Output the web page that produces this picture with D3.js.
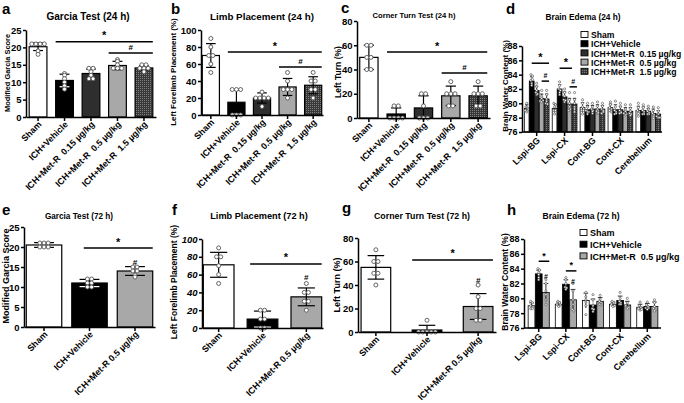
<!DOCTYPE html>
<html><head><meta charset="utf-8">
<script src="https://cdn.jsdelivr.net/npm/d3@7"></script>
<style>
body{margin:0;background:#fff;}
text{font-family:"Liberation Sans",Arial,sans-serif;font-weight:bold;fill:#000;white-space:pre;}
</style></head><body>
<svg id="chart" width="684" height="403"></svg>
<script>
// ---------------- DATA ----------------
const groups24 = ["Sham","ICH+Vehicle","ICH+Met-R  0.15 µg/kg","ICH+Met-R  0.5 µg/kg","ICH+Met-R  1.5 µg/kg"];
const groups72 = ["Sham","ICH+Vehicle","ICH+Met-R 0.5 µg/kg"];
const regions = ["Lspi-BG","Lspi-CX","Cont-BG","Cont-CX","Cerebellum"];
const legend24 = ["Sham","ICH+Vehicle","ICH+Met-R  0.15 µg/kg","ICH+Met-R  0.5 µg/kg","ICH+Met-R  1.5 µg/kg"];
const legend72 = ["Sham","ICH+Vehicle","ICH+Met-R  0.5 µg/kg"];

const ticksGarcia = [0,5,10,15,20,25];
const ticksLimb = [0,20,40,60,80,100];
const ticksTurn = [0,20,40,60,80];
const ticksEdema = [76,78,80,82,84,86,88];

// a: Garcia 24 h
const garcia24Mean = [20.2,10.5,12.5,14.8,14.1];
const garcia24SD = [1.1,1.8,1.3,1.2,0.6];
const garcia24Pts = [[21,21,21,21,19,18],[12.5,12,11,10,9,8],[14,14,13,12,11,11],[16.5,16,15,14,14,14],[15,15,14,14,14,13]];
const garcia24Sig = [{from:1,to:4,v:21.6,s:"*"},{from:3,to:4,v:18.4,s:"#"}];
// b: Limb 24 h
const limb24Mean = [70,15,20,33,35];
const limb24SD = [14,14,6,10,10];
const limb24Pts = [[90,80,70,70,60,50],[30,30,30,0,0,0],[27,20,20,20,20,10],[50,40,30,30,30,20],[50,40,40,30,30,20]];
const limb24Sig = [{from:1,to:4,v:74,s:"*"},{from:3,to:4,v:56.5,s:"#"}];
// c: Corner 24 h
const turn24Mean = [50,3.3,8.3,18.3,18.3];
const turn24SD = [10,5,10,8,8];
const turn24Pts = [[60,60,50,50,40,40],[10,10,0,0,0,0],[20,20,10,0,0,0],[30,20,20,20,10,10],[30,20,20,20,10,10]];
const turn24Sig = [{from:1,to:4,v:54.4,s:"*"},{from:3,to:4,v:37.1,s:"#"}];
// e: Garcia 72 h
const garcia72Mean = [20.5,11,14];
const garcia72SD = [0.6,0.9,1.1];
const garcia72Pts = [[21,21,21,20,20,20],[12,12,11,11,10,10],[15,15,14,14,13,12.5]];
const garcia72Sig = [{from:1,to:2,v:19.75,s:"*"},{at:2,v:16.3,s:"#"}];
// f: Limb 72 h
const limb72Mean = [71,10,35];
const limb72SD = [14,9,10];
const limb72Pts = [[90,80,80,70,60,50],[20,20,10,10,0,0],[50,40,40,30,30,20]];
const limb72Sig = [{from:1,to:2,v:72,s:"*"},{at:2,v:57,s:"#"}];
// g: Corner 72 h
const turn72Mean = [55,1.7,21.7];
const turn72SD = [10,4,11];
const turn72Pts = [[70,60,60,50,50,40],[10,0,0,0,0,0],[40,30,20,20,10,10]];
const turn72Sig = [{from:1,to:2,v:61.3,s:"*"},{at:2,v:44.3,s:"#"}];

// d: Brain edema 24 h (per series, by region)
const edema24Mean = {
  sham:  [79.3,79.3,79.4,79.4,79.0],
  veh:   [83.1,82.0,79.1,79.1,79.0],
  d015:  [81.8,80.9,79.2,79.1,78.9],
  d05:   [80.7,79.9,79.2,78.9,78.6],
  d15:   [80.6,79.9,79.2,78.9,78.5]
};
const edema24SD = {
  sham:  [0.5,0.6,0.7,0.5,0.6],
  veh:   [0.6,0.6,0.6,0.7,0.5],
  d015:  [0.6,0.7,0.5,0.5,0.4],
  d05:   [0.6,0.8,0.6,0.5,0.6],
  d15:   [0.7,0.8,0.5,0.5,0.5]
};
const edema24Pts = {
  sham: [[80,79.5,79.3,79,78.8,79.2],[80,79.8,79.5,79,78.5,79],[80.5,80,79.5,79,78.5,79],[80.2,79.8,79.4,79,78.8,79.2],[80,79.4,79,78.8,78.6,78.2]],
  veh:  [[84,83.8,83.2,82.8,82.5,83.3],[83,82.5,82,81.8,81.2,81.5],[80,79.5,79,78.8,78.5,78.8],[80.3,79.5,79,78.8,78.5,78.6],[79.8,79.4,79,78.8,78.5,78.5]],
  d015: [[82.8,82.3,81.8,81.5,81.2,81.3],[82,81.5,81,80.5,80.2,80.4],[80,79.5,79.2,79,78.6,78.9],[80,79.5,79,78.8,78.6,78.7],[79.6,79.2,78.9,78.7,78.5,78.5]],
  d05:  [[81.8,81,80.7,80.3,80.2,80.4],[81.5,80.5,80,79.5,79,79.2],[80.2,79.6,79.2,78.9,78.6,78.7],[79.8,79.2,78.9,78.6,78.4,78.5],[79.5,79,78.6,78.4,78.2,77.9]],
  d15:  [[81.8,81.2,80.6,80.3,80,79.9],[81.5,80.5,80,79.5,79.2,78.8],[80,79.6,79.2,79,78.6,78.8],[79.8,79.3,78.9,78.6,78.3,78.5],[79.4,78.9,78.5,78.2,78,78]]
};
const edema24Sig = [{r:0,from:1,to:4,v:85.6,s:"*"},{r:0,from:3,to:4,v:83.1,s:"#"},{r:1,from:1,to:3,v:84.9,s:"*"},{r:1,from:3,to:4,v:82.3,s:"#"}];

// h: Brain edema 72 h
const edema72Mean = {
  sham: [79.0,79.2,79.7,79.2,78.8],
  veh:  [83.3,81.9,79.1,79.7,78.9],
  d05:  [80.8,79.8,79.6,79.1,78.9]
};
const edema72SD = {
  sham: [0.4,0.3,1.0,0.3,0.4],
  veh:  [0.5,0.6,0.8,0.6,0.4],
  d05:  [1.2,1.4,0.5,0.5,0.6]
};
const edema72Pts = {
  sham: [[79.6,79.4,79,78.8,78.6,78.6],[79.6,79.4,79.2,79,78.9,79.1],[80.8,80.2,79.8,79.5,79,77.8],[79.6,79.4,79.2,79,79,78.9],[79.5,79,78.8,78.6,78.4,78.5]],
  veh:  [[84,83.8,83.5,83.2,82.8,82.5],[82.8,82.5,82,81.5,81.2,81.4],[80.5,79.8,79,78.6,78.2,78.5],[80.8,80,79.6,79.4,79.2,79.2],[79.5,79.1,78.9,78.7,78.5,78.7]],
  d05:  [[82.5,82,81,80.5,79.8,79.2],[82,81,79.8,79.2,78.5,78.3],[80.4,79.9,79.6,79.4,79.2,79.1],[80,79.4,79,78.8,78.6,78.8],[79.8,79.4,78.9,78.6,78.4,78.3]]
};
const edema72Sig = [{r:0,from:1,to:2,v:85.0,s:"*"},{r:1,from:1,to:2,v:83.7,s:"*"},{r:0,at:2,v:83.0,s:"#"},{r:1,at:2,v:82.4,s:"#"}];

// ---------------- DRAWING ----------------
const svg = d3.select("#chart");
svg.append("rect").attr("width",684).attr("height",403).attr("fill","#fff");
const defs = svg.append("defs");
const pat = defs.append("pattern").attr("id","checker").attr("width",2).attr("height",2).attr("patternUnits","userSpaceOnUse");
pat.append("rect").attr("width",2).attr("height",2).attr("fill","#383838");
pat.append("rect").attr("width",1).attr("height",1).attr("fill","#808080");

const fills5 = ["#ffffff","#000000","#2e2e2e","#a8a8a8","url(#checker)"];
const fills3 = ["#ffffff","#000000","#a8a8a8"];

function spread(vals, step, tol){
  // horizontal offsets so points of (nearly) equal value sit side by side
  const off = new Array(vals.length).fill(0);
  const buckets = [];
  vals.forEach((v,i)=>{
    let b = buckets.find(b=>Math.abs(b.v-v)<tol);
    if(!b){ b={v,idx:[]}; buckets.push(b);} b.idx.push(i);
  });
  buckets.forEach(b=>{ const n=b.idx.length; b.idx.forEach((ix,j)=>{ off[ix]=(j-(n-1)/2)*step; }); });
  return off;
}

function styleAxis(ax, fs){
  ax.selectAll(".domain").attr("stroke","#000").attr("stroke-width",1.5);
  ax.selectAll(".tick line").attr("stroke","#000").attr("stroke-width",1.5);
  ax.selectAll("text").attr("font-size",fs).attr("font-family","Liberation Sans, Arial, sans-serif").attr("font-weight","bold").attr("fill","#000");
}

function label(x,y,txt,fs,opts={}){
  const t = svg.append("text").attr("x",x).attr("y",y).attr("font-size",fs).text(txt);
  if(opts.anchor) t.attr("text-anchor",opts.anchor);
  if(opts.rot) t.attr("transform",`rotate(${opts.rot},${x},${y})`);
  return t;
}

function behaviorPanel(p){
  const g = svg.append("g");
  const x = d3.scaleBand().domain(p.cats).range([p.x0,p.x1]).paddingInner(p.pi).paddingOuter(p.po);
  const y = d3.scaleLinear().domain([0,p.ticks[p.ticks.length-1]]).range([p.yB,p.yT]);
  const bw = x.bandwidth();
  p.cats.forEach((c,i)=>{
    const cx = x(c)+bw/2;
    g.append("rect").attr("x",x(c)).attr("y",y(p.mean[i])).attr("width",bw).attr("height",y(0)-y(p.mean[i]))
      .attr("fill",p.fills[i]).attr("stroke","#000").attr("stroke-width",1.2);
    const lo=y(p.mean[i]-p.sd[i]), hi=y(p.mean[i]+p.sd[i]), cw=bw*0.28;
    g.append("line").attr("x1",cx).attr("x2",cx).attr("y1",Math.min(lo,y(0))).attr("y2",hi).attr("stroke","#000").attr("stroke-width",1.2);
    g.append("line").attr("x1",cx-cw).attr("x2",cx+cw).attr("y1",hi).attr("y2",hi).attr("stroke","#000").attr("stroke-width",1.2);
    if(lo<y(0)) g.append("line").attr("x1",cx-cw).attr("x2",cx+cw).attr("y1",lo).attr("y2",lo).attr("stroke",i===1?"#fff":"#000").attr("stroke-width",1.2);
    const off = spread(p.pts[i], 4.2, 0.01);
    p.pts[i].forEach((v,j)=>{
      g.append("circle").attr("cx",cx+off[j]).attr("cy",y(v)).attr("r",2).attr("fill","#fff").attr("stroke","#555").attr("stroke-width",0.9);
    });
  });
  p.sig.forEach(s=>{
    if(s.at!==undefined){
      const cx = x(p.cats[s.at])+bw/2;
      g.append("text").attr("x",cx).attr("y",y(s.v)+3).attr("text-anchor","middle").attr("font-size",8).text(s.s);
    } else {
      const xa = x(p.cats[s.from]) + (p.sigInset||0), xb = x(p.cats[s.to])+bw;
      g.append("line").attr("x1",xa).attr("x2",xb).attr("y1",y(s.v)).attr("y2",y(s.v)).attr("stroke","#000").attr("stroke-width",1.5);
      g.append("text").attr("x",(xa+xb)/2).attr("y",y(s.v)-(s.s==="*"?2.5:3)).attr("text-anchor","middle").attr("font-size",s.s==="*"?11:8).text(s.s);
    }
  });
  const ya = g.append("g").attr("transform",`translate(${p.x0},0)`).call(d3.axisLeft(y).tickValues(p.ticks).tickSize(3).tickSizeOuter(0).tickPadding(1.5));
  styleAxis(ya, p.tfs);
  if(p.italicTicks) ya.selectAll("text").attr("font-style","italic");
  const xa = g.append("g").attr("transform",`translate(0,${p.yB})`).call(d3.axisBottom(x).tickSize(4).tickSizeOuter(0));
  styleAxis(xa, p.xfs);
  xa.selectAll(".tick text").attr("x",0).attr("y",0).attr("dy",0).attr("text-anchor","end")
    .attr("transform",`translate(${p.lx},${p.ly}) rotate(-45)`);
}

function edemaPanel(p){
  const g = svg.append("g");
  const x = d3.scaleBand().domain(regions).range([p.x0,p.x1]).paddingInner(p.pi).paddingOuter(p.po);
  const xi = d3.scaleBand().domain(p.series.map((s,i)=>i)).range([0,x.bandwidth()]).padding(p.ip);
  const y = d3.scaleLinear().domain([76,88]).range([p.yB,p.yT]);
  const bw = xi.bandwidth();
  regions.forEach((r,ri)=>{
    p.series.forEach((s,si)=>{
      const m = p.mean[s][ri], sd = p.sd[s][ri];
      const x0 = x(r)+xi(si), cx = x0+bw/2;
      g.append("rect").attr("x",x0).attr("y",y(m)).attr("width",bw).attr("height",y(76)-y(m))
        .attr("fill",p.fills[si]).attr("stroke","#000").attr("stroke-width",0.8);
      const hi=y(m+sd), lo=y(m-sd), cw=bw*0.35;
      g.append("line").attr("x1",cx).attr("x2",cx).attr("y1",lo).attr("y2",hi).attr("stroke",si===1?"#888":"#000").attr("stroke-width",0.8);
      g.append("line").attr("x1",cx-cw).attr("x2",cx+cw).attr("y1",hi).attr("y2",hi).attr("stroke","#000").attr("stroke-width",0.8);
      const off = spread(p.pts[s][ri], 1.6, 0.25);
      p.pts[s][ri].forEach((v,j)=>{
        g.append("circle").attr("cx",cx+off[j]).attr("cy",y(v)).attr("r",1.1).attr("fill","#fff").attr("stroke","#444").attr("stroke-width",0.6);
      });
    });
  });
  p.sig.forEach(s=>{
    const r = regions[s.r];
    if(s.at!==undefined){
      const cx = x(r)+xi(s.at)+bw/2;
      g.append("text").attr("x",cx).attr("y",y(s.v)+3).attr("text-anchor","middle").attr("font-size",7).text(s.s);
    } else {
      const xa = x(r)+xi(s.from)+bw/2, xb = x(r)+xi(s.to)+bw;
      g.append("line").attr("x1",xa).attr("x2",xb).attr("y1",y(s.v)).attr("y2",y(s.v)).attr("stroke","#000").attr("stroke-width",1.5);
      g.append("text").attr("x",(xa+xb)/2).attr("y",y(s.v)-(s.s==="*"?2.5:3)).attr("text-anchor","middle").attr("font-size",s.s==="*"?p.starFs:7).text(s.s);
    }
  });
  const ya = g.append("g").attr("transform",`translate(${p.axisX},0)`).call(d3.axisLeft(y).tickValues(ticksEdema).tickSize(3).tickSizeOuter(0).tickPadding(1.5));
  styleAxis(ya, 9);
  const xa = g.append("g").attr("transform",`translate(0,${p.yB})`).call(d3.axisBottom(x).tickSize(4).tickSizeOuter(0));
  xa.select(".domain").attr("d",`M${p.axisX},0H${p.x1}`);
  styleAxis(xa, 8.9);
  xa.selectAll(".tick text").attr("x",0).attr("y",0).attr("dy",0).attr("text-anchor","end")
    .attr("transform",`translate(4,9) rotate(-45)`);
  p.legend.forEach((t,i)=>{
    const ly = p.legY + i*p.legStep;
    g.append("rect").attr("x",p.legX).attr("y",ly-3.5).attr("width",7).attr("height",6).attr("fill",p.fills[i]).attr("stroke","#000").attr("stroke-width",0.9);
    g.append("text").attr("x",p.legX+10).attr("y",ly+3.2).attr("font-size",p.legFs).text(t);
  });
}

// ---- panels ----
behaviorPanel({cats:groups24, mean:garcia24Mean, sd:garcia24SD, pts:garcia24Pts, sig:garcia24Sig, fills:fills5,
  ticks:ticksGarcia, x0:26, x1:156, yT:30, yB:117, pi:0.33, po:0.12, tfs:9.5, xfs:8.9, lx:4, ly:8});
behaviorPanel({cats:groups24, mean:limb24Mean, sd:limb24SD, pts:limb24Pts, sig:limb24Sig, fills:fills5,
  ticks:ticksLimb, x0:201, x1:323, yT:30, yB:115, pi:0.33, po:0.05, tfs:9.5, xfs:8.9, lx:4, ly:8});
behaviorPanel({cats:groups24, mean:turn24Mean, sd:turn24SD, pts:turn24Pts, sig:turn24Sig, fills:fills5,
  ticks:ticksTurn, x0:357, x1:490, yT:21, yB:118, pi:0.33, po:0.1, tfs:9.5, xfs:8.9, lx:4, ly:8});
behaviorPanel({cats:groups72, mean:garcia72Mean, sd:garcia72SD, pts:garcia72Pts, sig:garcia72Sig, fills:fills3,
  ticks:ticksGarcia, x0:24, x1:155, yT:227, yB:327, pi:0.22, po:0.05, tfs:9.5, xfs:8.9, lx:4, ly:8, sigInset:12});
behaviorPanel({cats:groups72, mean:limb72Mean, sd:limb72SD, pts:limb72Pts, sig:limb72Sig, fills:fills3,
  ticks:ticksLimb, x0:202, x1:323, yT:239, yB:328, pi:0.3, po:0.03, tfs:9.5, xfs:8.9, lx:4, ly:8, italicTicks:true, sigInset:3});
behaviorPanel({cats:groups72, mean:turn72Mean, sd:turn72SD, pts:turn72Pts, sig:turn72Sig, fills:fills3,
  ticks:ticksTurn, x0:358, x1:496, yT:238, yB:332, pi:0.42, po:0.06, tfs:9.5, xfs:8.9, lx:4, ly:8});

edemaPanel({series:["sham","veh","d015","d05","d15"], mean:edema24Mean, sd:edema24SD, pts:edema24Pts, sig:edema24Sig, fills:fills5,
  legend:legend24, x0:523, x1:662, axisX:522, yT:46, yB:132, pi:0.1, po:0.04, ip:0.04, legX:581, legY:35, legStep:9.2, starFs:11, legFs:8.6});
edemaPanel({series:["sham","veh","d05"], mean:edema72Mean, sd:edema72SD, pts:edema72Pts, sig:edema72Sig, fills:fills3,
  legend:legend72, x0:525, x1:661, axisX:524, yT:239, yB:328, pi:0.19, po:0.1, ip:0.06, legX:580, legY:233, legStep:11.7, starFs:9, legFs:9});

// ---- titles ----
label(88,20,"Garcia Test (24 h)",10,{anchor:"middle"});
label(262,20,"Limb Placement (24 h)",9.8,{anchor:"middle"});
label(414,18,"Corner Turn Test (24 h)",7.6,{anchor:"middle"});
label(583,20,"Brain Edema (24 h)",8.3,{anchor:"middle"});
label(79,219,"Garcia Test (72 h)",8.2,{anchor:"middle"});
label(259,219,"Limb Placement (72 h)",9.2,{anchor:"middle"});
label(422,219,"Corner Turn Test (72 h)",8.8,{anchor:"middle"});
label(581,219,"Brain Edema (72 h)",8.5,{anchor:"middle"});

// ---- y-axis titles ----
label(10,73,"Modified Garcia Score",7.4,{anchor:"middle",rot:-90});
label(176,72,"Left Forelimb Placement (%)",8,{anchor:"middle",rot:-90});
label(341,72,"Left Turn (%)",8.5,{anchor:"middle",rot:-90});
label(508,86,"Brain Water Content (%)",8,{anchor:"middle",rot:-90});
label(8.5,276,"Modified Garcia Score",9,{anchor:"middle",rot:-90});
label(177,282,"Left Forelimb Placement (%)",8.5,{anchor:"middle",rot:-90});
label(340,285,"Left Turn (%)",9,{anchor:"middle",rot:-90});
label(508,282,"Brain Water Content (%)",8.5,{anchor:"middle",rot:-90});

// ---- panel letters ----
[["a",2,14],["b",171,14],["c",341,13],["d",506,14],["e",2,215],["f",172,215],["g",342,213],["h",507,215]].forEach(d=>{
  label(d[1],d[2],d[0],15);
});
</script></body></html>
